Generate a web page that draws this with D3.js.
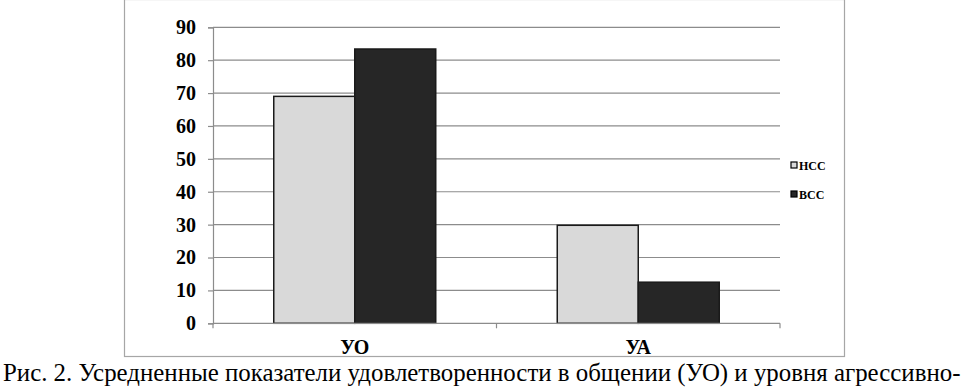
<!DOCTYPE html>
<html>
<head>
<meta charset="utf-8">
<script src="https://cdn.jsdelivr.net/npm/d3@7"></script>
<style>
  body { margin: 0; background: #fff; }
  svg { display: block; }
</style>
</head>
<body>
<div id="chart"></div>
<script>
// ------------------------------------------------------
// Data
const categories = ['УО', 'УА']
const seriesNames = ['НСС', 'ВСС']
const valuesNSS = [69, 29.8]
const valuesVSS = [83.4, 12.5]
const yTicks = [0, 10, 20, 30, 40, 50, 60, 70, 80, 90]
const caption = 'Рис. 2. Усредненные показатели удовлетворенности в общении (УО) и уровня агрессивно-'

const width = 968
const height = 387
const colors = ['#d9d9d9', '#262626']
const serif = "'Liberation Serif', monospace"

const svg = d3.select('#chart')
	.append('svg')
	.attr('width', width)
	.attr('height', height)

// outer frame of the chart
svg.append('rect')
	.attr('x', 124.5)
	.attr('y', -0.5)
	.attr('width', 720)
	.attr('height', 357)
	.attr('fill', '#fff')
	.attr('stroke', '#a6a6a6')
	.attr('stroke-width', 1.2)

// scales
const x0 = d3.scaleBand()
	.domain(categories)
	.range([213, 780])
	.paddingInner(0.4286)
	.paddingOuter(0.2143)

const x1 = d3.scaleBand()
	.domain(seriesNames)
	.range([0, x0.bandwidth()])

const y = d3.scaleLinear()
	.domain([0, 90])
	.range([323.3, 27.3])

// gridlines
svg.append('g')
	.selectAll('line')
	.data(yTicks.filter(d => d > 0))
	.enter()
	.append('line')
	.attr('x1', 213)
	.attr('x2', 780)
	.attr('y1', d => y(d))
	.attr('y2', d => y(d))
	.attr('stroke', '#8c8c8c')
	.attr('stroke-width', 1.2)

// y axis
const yAxis = svg.append('g')
	.attr('transform', 'translate(213,0)')
	.call(d3.axisLeft(y).tickValues(yTicks).tickSize(5).tickPadding(12))
yAxis.select('.domain').attr('stroke', '#8c8c8c').attr('stroke-width', 1.2)
yAxis.selectAll('line').attr('stroke', '#8c8c8c').attr('stroke-width', 1.2)
yAxis.selectAll('text')
	.style('font-family', serif)
	.style('font-weight', 'bold')
	.style('font-size', '20px')
	.attr('fill', '#000')

// bars
const data = categories.map((c, i) => ({ cat: c, vals: [valuesNSS[i], valuesVSS[i]] }))
const groups = svg.append('g')
	.selectAll('g')
	.data(data)
	.enter()
	.append('g')
	.attr('transform', d => `translate(${x0(d.cat)},0)`)

groups.selectAll('rect')
	.data(d => d.vals.map((v, j) => ({ name: seriesNames[j], value: v, j })))
	.enter()
	.append('rect')
	.attr('x', d => x1(d.name))
	.attr('y', d => y(d.value))
	.attr('width', x1.bandwidth())
	.attr('height', d => y(0) - y(d.value))
	.attr('fill', d => colors[d.j])
	.attr('stroke', '#1a1a1a')
	.attr('stroke-width', 1.5)

// x axis (category boundaries)
const xAxisG = svg.append('g')
xAxisG.append('line')
	.attr('x1', 213)
	.attr('x2', 780)
	.attr('y1', y(0))
	.attr('y2', y(0))
	.attr('stroke', '#8c8c8c')
	.attr('stroke-width', 1.2)
xAxisG.selectAll('.tick')
	.data([213, (213 + 780) / 2, 780])
	.enter()
	.append('line')
	.attr('x1', d => d)
	.attr('x2', d => d)
	.attr('y1', y(0))
	.attr('y2', y(0) + 5)
	.attr('stroke', '#8c8c8c')
	.attr('stroke-width', 1.2)

xAxisG.selectAll('text')
	.data(categories)
	.enter()
	.append('text')
	.attr('x', d => x0(d) + x0.bandwidth() / 2)
	.attr('y', 354)
	.attr('text-anchor', 'middle')
	.style('font-family', serif)
	.style('font-weight', 'bold')
	.style('font-size', '20px')
	.text(d => d)

// legend
const legend = svg.append('g')
	.selectAll('g')
	.data(seriesNames)
	.enter()
	.append('g')
	.attr('transform', (d, i) => `translate(791,${162 + i * 29})`)

legend.append('rect')
	.attr('width', 6)
	.attr('height', 6)
	.attr('fill', (d, i) => colors[i])
	.attr('stroke', '#000')
	.attr('stroke-width', 1.2)

legend.append('text')
	.attr('x', 8)
	.attr('y', 7.8)
	.style('font-family', serif)
	.style('font-weight', 'bold')
	.style('font-size', '12px')
	.text(d => d)

// caption under the chart, sized to span the page width
const cap = svg.append('text')
	.attr('x', 3)
	.attr('y', 381)
	.style('font-family', serif)
	.style('font-size', '24px')
	.text(caption)
const capLen = cap.node().getComputedTextLength()
if (capLen > 0) cap.style('font-size', (24 * 958 / capLen) + 'px')
</script>
</body>
</html>
